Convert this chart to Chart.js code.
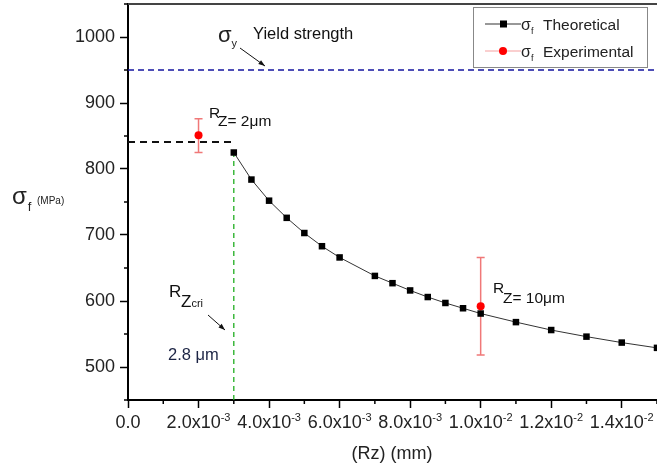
<!DOCTYPE html>
<html>
<head>
<meta charset="utf-8">
<script src="https://cdn.jsdelivr.net/npm/chart.js@4.4.0/dist/chart.umd.min.js"></script>
<style>
  html, body { margin: 0; padding: 0; background: #fff; }
  #wrap { width: 657px; height: 469px; }
</style>
</head>
<body>
<div id="wrap"><canvas id="chart" width="657" height="469"></canvas></div>
<script>
// theoretical fatigue strength vs roughness Rz (mm)
const rzTheory = [0.003, 0.0035, 0.004, 0.0045, 0.005, 0.0055, 0.006, 0.007, 0.0075, 0.008,
                  0.0085, 0.009, 0.0095, 0.010, 0.011, 0.012, 0.013, 0.014, 0.015];
const sigmaTheory = [825, 784, 752, 726, 703, 683, 666, 638, 627, 616,
                     606, 597, 589, 581, 568, 556, 546, 537, 529];

// experimental points with error range
const rzExp = [0.002, 0.010];
const sigmaExp = [851, 592];
const sigmaExpLow = [825, 518];
const sigmaExpHigh = [876, 666];

const yieldStrength = 950;
const rzCritical = 0.003;
const sigmaCritical = 841;

// x tick labels: mantissa + exponent
const xTickValues = [0, 0.002, 0.004, 0.006, 0.008, 0.010, 0.012, 0.014];
const xTickBase = ["0.0", "2.0x10", "4.0x10", "6.0x10", "8.0x10", "1.0x10", "1.2x10", "1.4x10"];
const xTickExp = ["", "-3", "-3", "-3", "-3", "-2", "-2", "-2"];

const FONT = "'Liberation Sans', Arial, sans-serif";

function pts(xs, ys) {
  return xs.map((x, i) => ({ x: x, y: ys[i] }));
}

function drawArrow(ctx, x1, y1, x2, y2) {
  ctx.save();
  ctx.strokeStyle = "#111";
  ctx.fillStyle = "#111";
  ctx.lineWidth = 1;
  ctx.beginPath();
  ctx.moveTo(x1, y1);
  ctx.lineTo(x2, y2);
  ctx.stroke();
  const a = Math.atan2(y2 - y1, x2 - x1);
  ctx.beginPath();
  ctx.moveTo(x2, y2);
  ctx.lineTo(x2 - 7 * Math.cos(a - 0.35), y2 - 7 * Math.sin(a - 0.35));
  ctx.lineTo(x2 - 7 * Math.cos(a + 0.35), y2 - 7 * Math.sin(a + 0.35));
  ctx.closePath();
  ctx.fill();
  ctx.restore();
}

function text(ctx, str, x, y, size, color, align) {
  ctx.font = size + "px " + FONT;
  ctx.fillStyle = color || "#111";
  ctx.textAlign = align || "left";
  ctx.textBaseline = "alphabetic";
  ctx.fillText(str, x, y);
  return ctx.measureText(str).width;
}

const decor = {
  id: "decor",
  beforeDatasetsDraw(chart) {
    // error bars
    const ctx = chart.ctx, xs = chart.scales.x, ys = chart.scales.y;
    ctx.save();
    ctx.strokeStyle = "#f07878";
    ctx.lineWidth = 1.5;
    rzExp.forEach((rz, i) => {
      const px = xs.getPixelForValue(rz);
      const top = ys.getPixelForValue(sigmaExpHigh[i]);
      const bot = ys.getPixelForValue(sigmaExpLow[i]);
      ctx.beginPath();
      ctx.moveTo(px, top); ctx.lineTo(px, bot);
      ctx.moveTo(px - 4, top); ctx.lineTo(px + 4, top);
      ctx.moveTo(px - 4, bot); ctx.lineTo(px + 4, bot);
      ctx.stroke();
    });
    ctx.restore();
  },
  afterDraw(chart) {
    const ctx = chart.ctx, xs = chart.scales.x, ys = chart.scales.y;
    const area = chart.chartArea;
    ctx.save();

    // top frame line
    ctx.strokeStyle = "#444";
    ctx.lineWidth = 2;
    ctx.beginPath();
    ctx.moveTo(area.left, area.top);
    ctx.lineTo(area.right, area.top);
    ctx.stroke();

    // minor ticks
    ctx.strokeStyle = "#000";
    ctx.lineWidth = 1.5;
    ys.ticks.forEach(t => {
      if (t.value % 100 !== 0) {
        const py = ys.getPixelForValue(t.value);
        ctx.beginPath(); ctx.moveTo(area.left - 4, py); ctx.lineTo(area.left, py); ctx.stroke();
      }
    });
    xs.ticks.forEach(t => {
      if (Math.round(t.value * 1000) % 2 !== 0) {
        const px = xs.getPixelForValue(t.value);
        ctx.beginPath(); ctx.moveTo(px, area.bottom); ctx.lineTo(px, area.bottom + 4); ctx.stroke();
      }
    });

    // x tick labels with superscript exponent
    xTickValues.forEach((v, i) => {
      const px = xs.getPixelForValue(v);
      ctx.font = "18px " + FONT;
      const wb = ctx.measureText(xTickBase[i]).width;
      ctx.font = "11px " + FONT;
      const we = xTickExp[i] ? ctx.measureText(xTickExp[i]).width : 0;
      const x0 = px - (wb + we) / 2;
      text(ctx, xTickBase[i], x0, 428, 18, "#222");
      if (xTickExp[i]) text(ctx, xTickExp[i], x0 + wb, 421, 11, "#222");
    });

    // axis titles
    text(ctx, "(Rz) (mm)", 392, 459, 18, "#222", "center");
    let w = text(ctx, "σ", 12, 204, 24, "#222");
    text(ctx, "f", 12 + w + 1, 211, 13, "#222");
    text(ctx, "(MPa)", 37, 204, 10, "#222");

    // yield strength note
    w = text(ctx, "σ", 218, 42, 22, "#222");
    text(ctx, "y", 218 + w, 47, 11, "#222");
    text(ctx, "Yield strength", 253, 39, 16.5, "#111");
    drawArrow(ctx, 240, 48, 265, 66);

    // Rz labels
    text(ctx, "R", 209, 118, 15.5, "#111");
    text(ctx, "Z= 2μm", 218, 126, 15.5, "#111");
    text(ctx, "R", 493, 293, 15.5, "#111");
    text(ctx, "Z= 10μm", 503, 303, 15.5, "#111");

    // critical roughness
    text(ctx, "R", 169, 297, 17, "#111");
    w = text(ctx, "Z", 181, 307, 17, "#111");
    text(ctx, "cri", 181 + w, 307, 11, "#111");
    drawArrow(ctx, 208, 315, 225, 330);
    text(ctx, "2.8 μm", 168, 360, 16.5, "#1c2444");

    // legend
    ctx.fillStyle = "#fff";
    ctx.fillRect(473, 7, 174, 60);
    ctx.strokeStyle = "#888";
    ctx.lineWidth = 1;
    ctx.strokeRect(473.5, 7.5, 174, 60);
    const rows = [
      { y: 24, line: "#333", color: "#000", label: chart.data.datasets[1].label, square: true },
      { y: 51, line: "#f5a0a0", color: "#ff0000", label: chart.data.datasets[0].label, square: false }
    ];
    rows.forEach(r => {
      ctx.strokeStyle = r.line;
      ctx.lineWidth = 1.2;
      ctx.beginPath(); ctx.moveTo(485, r.y); ctx.lineTo(521, r.y); ctx.stroke();
      ctx.fillStyle = r.color;
      if (r.square) ctx.fillRect(500, r.y - 3.5, 7, 7);
      else { ctx.beginPath(); ctx.arc(503, r.y, 4, 0, Math.PI * 2); ctx.fill(); }
      const ws = text(ctx, "σ", 521, r.y + 6, 16, "#222");
      text(ctx, "f", 521 + ws, r.y + 10, 9, "#222");
      text(ctx, r.label, 543, r.y + 6, 15.5, "#222");
    });

    ctx.restore();
  }
};

new Chart(document.getElementById("chart"), {
  type: "scatter",
  data: {
    datasets: [
      {
        label: "Experimental",
        data: pts(rzExp, sigmaExp),
        showLine: false,
        pointStyle: "circle",
        pointRadius: 4,
        backgroundColor: "#ff0000",
        borderColor: "#ff0000",
        borderWidth: 0
      },
      {
        label: "Theoretical",
        data: pts(rzTheory, sigmaTheory),
        showLine: true,
        borderColor: "#333",
        borderWidth: 1,
        pointStyle: "rect",
        pointRadius: 4.6,
        backgroundColor: "#000",
        pointBorderWidth: 0
      },
      {
        label: "yield",
        data: [{ x: 0, y: yieldStrength }, { x: 0.015, y: yieldStrength }],
        showLine: true,
        borderColor: "#1515a0",
        borderWidth: 1.3,
        borderDash: [6, 4],
        pointRadius: 0
      },
      {
        label: "critical level",
        data: [{ x: 0, y: sigmaCritical }, { x: rzCritical, y: sigmaCritical }],
        showLine: true,
        borderColor: "#111",
        borderWidth: 2,
        borderDash: [7, 5],
        pointRadius: 0
      },
      {
        label: "critical Rz",
        data: [{ x: rzCritical, y: 450 }, { x: rzCritical, y: sigmaTheory[0] }],
        showLine: true,
        borderColor: "#1fae1f",
        borderWidth: 1.3,
        borderDash: [5, 4],
        pointRadius: 0
      }
    ]
  },
  options: {
    responsive: false,
    animation: false,
    layout: { autoPadding: false, padding: { top: 4, right: 0, left: 0, bottom: 0 } },
    plugins: { legend: { display: false }, tooltip: { enabled: false } },
    scales: {
      x: {
        type: "linear",
        min: 0,
        max: 0.015,
        afterFit: s => { s.height = 69; s.paddingLeft = 0; s.paddingRight = 0; },
        ticks: { display: false, stepSize: 0.001 },
        grid: {
          drawOnChartArea: false,
          drawTicks: true,
          tickLength: 8,
          tickWidth: 1.5,
          tickColor: c => (c.tick && Math.round(c.tick.value * 1000) % 2 === 0) ? "#000" : "rgba(0,0,0,0)"
        },
        border: { display: true, color: "#000", width: 2 }
      },
      y: {
        min: 450,
        max: 1050,
        afterFit: s => { s.width = 128; s.paddingTop = 0; s.paddingBottom = 0; },
        ticks: {
          stepSize: 50,
          padding: 5,
          color: "#222",
          font: { family: FONT, size: 18 },
          callback: v => (v % 100 === 0 && v >= 500 && v <= 1000) ? String(v) : ""
        },
        grid: {
          drawOnChartArea: false,
          drawTicks: true,
          tickLength: 8,
          tickWidth: 1.5,
          tickColor: c => (c.tick && c.tick.value % 100 === 0) ? "#000" : "rgba(0,0,0,0)"
        },
        border: { display: true, color: "#000", width: 2 }
      }
    }
  },
  plugins: [decor]
});
</script>
</body>
</html>
